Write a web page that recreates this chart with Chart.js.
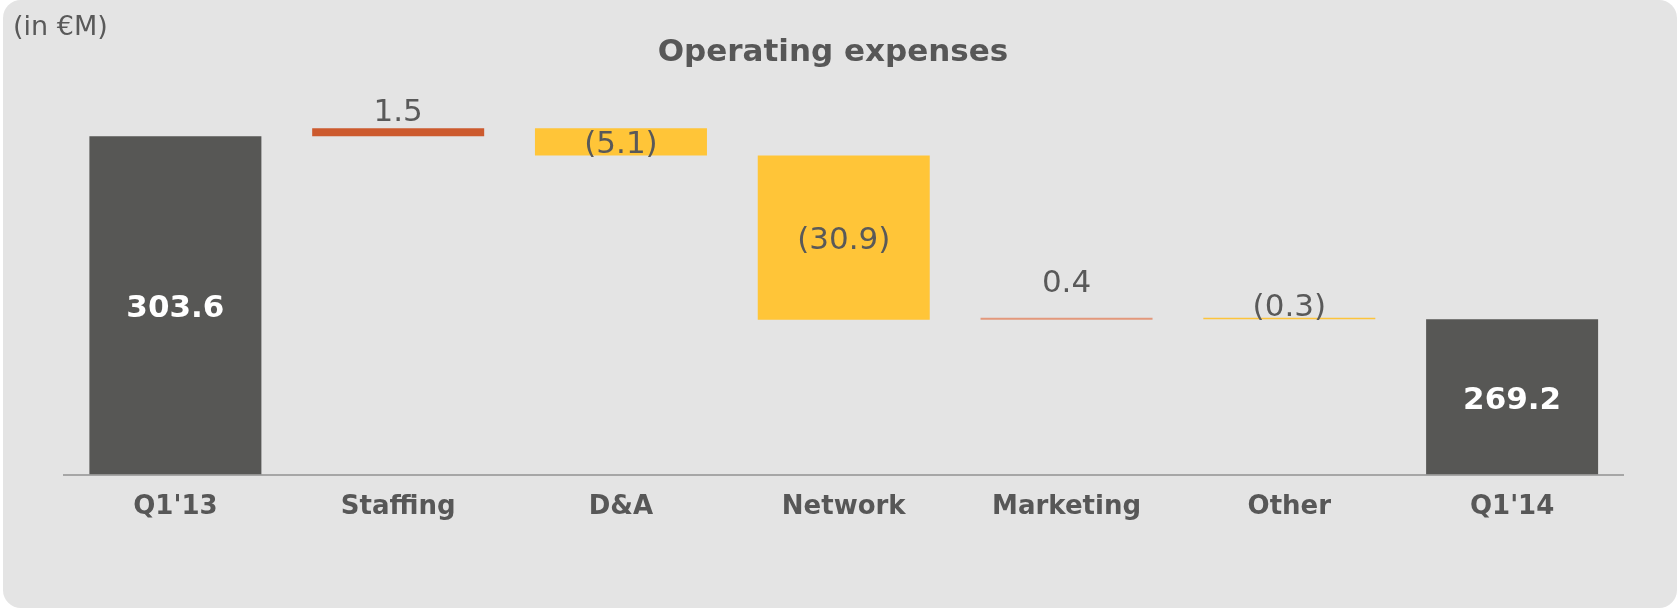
<!DOCTYPE html>
<html>
<head>
<meta charset="utf-8">
<script src="https://cdn.jsdelivr.net/npm/chart.js@4"></script>
<style>
  html, body { margin: 0; padding: 0; background: #ffffff; }
  #wrap { position: relative; width: 1677px; height: 608px; overflow: hidden; }
  #card { position: absolute; left: 3px; top: 0; width: 1674px; height: 608px; background: #e4e4e4; border-radius: 18px; }
  #unit { position: absolute; left: 13px; top: 10px; font: 27px "DejaVu Sans", sans-serif; line-height: 32px; color: #595959; }
  #title { position: absolute; left: 0; width: 1666px; top: 31px; text-align: center; font: bold 31px "DejaVu Sans", sans-serif; line-height: 38px; color: #575757; }
  canvas { position: absolute; left: 0; top: 0; }
</style>
</head>
<body>
<div id="wrap">
  <div id="card"></div>
  <canvas id="c" width="1677" height="608"></canvas>
  <div id="unit">(in €M)</div>
  <div id="title">Operating expenses</div>
</div>
<script>
// ---- data ----
const categories = ["Q1'13", "Staffing", "D&A", "Network", "Marketing", "Other", "Q1'14"];
const startTotal = 303.6;
const changes = [1.5, -5.1, -30.9, 0.4, -0.3];
const endTotal = 269.2;
const axisMin = 240;
const axisMax = 312.5;

// ---- build floating bars ----
const floating = [];
const kinds = [];
floating.push([axisMin, startTotal]); kinds.push({type: 'total', v: startTotal});
let run = startTotal;
changes.forEach(d => { floating.push([run, run + d]); kinds.push({type: 'delta', v: d}); run += d; });
floating.push([axisMin, endTotal]); kinds.push({type: 'total', v: endTotal});

const colors = ['#575755', '#cc5a2e', '#ffc538', '#ffc538', '#e3987b', '#fcc43c', '#575755'];
const labelShift = [4, -15, 3, 3, -34, -10, 4];

function fmt(k) {
  if (k.type === 'total') return k.v.toFixed(1);
  return k.v < 0 ? '(' + Math.abs(k.v).toFixed(1) + ')' : k.v.toFixed(1);
}

const labelPlugin = {
  id: 'wfLabels',
  afterDatasetsDraw(chart) {
    const ctx = chart.ctx;
    const meta = chart.getDatasetMeta(0);
    ctx.save();
    ctx.textAlign = 'center';
    ctx.textBaseline = 'middle';
    meta.data.forEach((bar, i) => {
      const k = kinds[i];
      const top = Math.min(bar.y, bar.base);
      const bottom = Math.max(bar.y, bar.base);
      let y;
      if (k.type === 'total') {
        ctx.font = 'bold 31px "DejaVu Sans", sans-serif';
        ctx.fillStyle = '#ffffff';
        y = (top + bottom) / 2 + labelShift[i];
      } else {
        ctx.font = '31px "DejaVu Sans", sans-serif';
        ctx.fillStyle = '#595959';
        if (k.v > 0) y = top + labelShift[i];
        else y = (top + bottom) / 2 + labelShift[i];
      }
      ctx.fillText(fmt(k), bar.x, y);
    });
    ctx.restore();
  }
};

new Chart(document.getElementById('c'), {
  type: 'bar',
  data: {
    labels: categories,
    datasets: [{
      data: floating,
      backgroundColor: colors,
      borderWidth: 0,
      categoryPercentage: 1.0,
      barPercentage: 0.772
    }]
  },
  options: {
    responsive: false,
    animation: false,
    layout: { padding: { left: 64, right: 53.5, top: 89, bottom: 0 } },
    plugins: { legend: { display: false }, tooltip: { enabled: false }, title: { display: false } },
    scales: {
      x: {
        grid: { display: true, drawOnChartArea: false, drawTicks: false, color: 'rgba(0,0,0,0)' },
        border: { display: true, color: '#a6a6a6', width: 2 },
        ticks: { color: '#575757', font: { family: 'DejaVu Sans', size: 26, weight: 'bold' }, padding: 17 },
        afterFit(scale) { scale.height = 133.5; }
      },
      y: {
        display: false,
        min: axisMin,
        max: axisMax
      }
    }
  },
  plugins: [labelPlugin]
});
</script>
</body>
</html>
